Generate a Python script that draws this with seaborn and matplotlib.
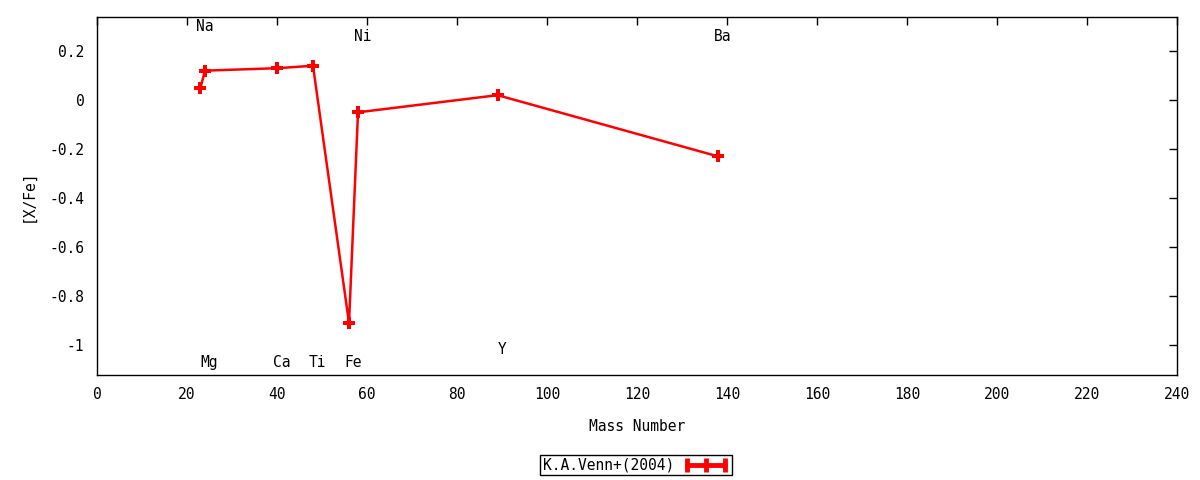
import matplotlib
matplotlib.use("Agg")
import matplotlib.pyplot as plt
from matplotlib.lines import Line2D
import seaborn as sns
import pandas as pd

# abundance data
elements = ["Na", "Mg", "Ca", "Ti", "Fe", "Ni", "Y", "Ba"]
mass = [23, 24, 40, 48, 56, 58, 89, 138]
xfe = [0.05, 0.12, 0.13, 0.14, -0.91, -0.05, 0.02, -0.23]
label_y = [0.30, -1.07, -1.07, -1.07, -1.07, 0.26, -1.02, 0.26]

df = pd.DataFrame({"mass": mass, "xfe": xfe})

sns.set_style("white")
plt.rcParams["font.family"] = ["DejaVu Sans Mono", "DejaVu Sans"]
plt.rcParams["text.color"] = "black"
plt.rcParams["axes.labelcolor"] = "black"

fig = plt.figure(figsize=(12, 4.8), dpi=100)
ax = fig.add_axes([0.0808, 0.2188, 0.9002, 0.7458])

sns.lineplot(data=df, x="mass", y="xfe", sort=False, color="red",
             marker="P", markersize=9, markeredgewidth=0, linewidth=1.8,
             ax=ax)

for el, m, ly in zip(elements, mass, label_y):
    ax.text(m + 1, ly, el, ha="center", va="center", fontsize=10.5)

ax.set_xlim(0, 240)
ax.set_ylim(-1.122, 0.339)
ax.set_xticks(range(0, 241, 20))
yt = [0.2, 0, -0.2, -0.4, -0.6, -0.8, -1]
ax.set_yticks(yt)
ax.set_yticklabels(["0.2", "0", "-0.2", "-0.4", "-0.6", "-0.8", "-1"])
ax.tick_params(direction="in", length=6, width=1, top=True, right=True,
               labelsize=10.5, colors="black", pad=9)
for s in ax.spines.values():
    s.set_color("black")
    s.set_linewidth(1)

ax.set_xlabel("Mass Number", fontsize=10.5, labelpad=12)
ax.set_ylabel("[X/Fe]", fontsize=10.5, labelpad=10)

handle = Line2D([], [], color="red", linewidth=3.5, marker="|",
                markersize=10, markeredgewidth=3.5)
leg = ax.legend(handles=[handle], labels=["K.A.Venn+(2004)"],
                loc="center", bbox_to_anchor=(0.53, 0.031),
                bbox_transform=fig.transFigure, markerfirst=False,
                numpoints=3, fancybox=False, framealpha=1,
                edgecolor="black", fontsize=10.5, handlelength=3.2,
                borderpad=0.15, handletextpad=0.6, borderaxespad=0)
leg.get_frame().set_linewidth(1)
leg._legend_box.sep = 0
leg.get_texts()[0].set_x(0)

fig.savefig("out.png", dpi=100)
